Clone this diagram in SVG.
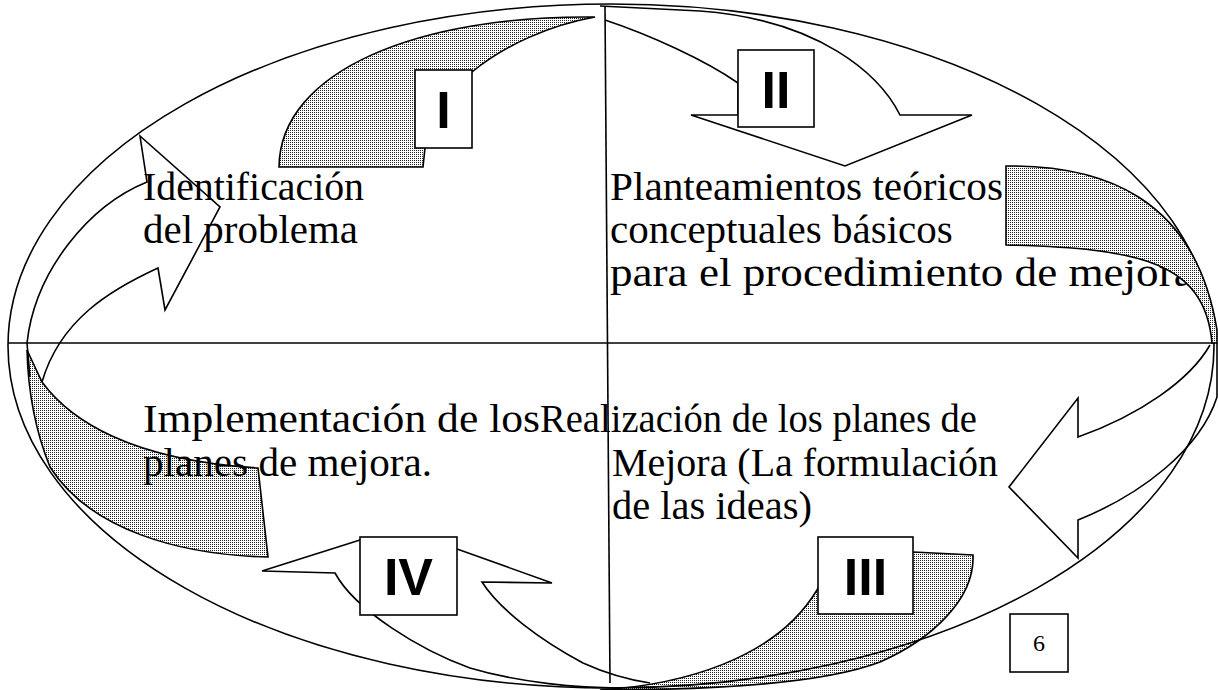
<svg xmlns="http://www.w3.org/2000/svg" width="1218" height="690" viewBox="0 0 1218 690">
<defs>
<pattern id="dots" width="2" height="2" patternUnits="userSpaceOnUse"><rect width="2" height="2" fill="#fff"/><rect width="1" height="1" fill="#222"/></pattern>
<style>
.ln{fill:none;stroke:#000;stroke-width:1.6;stroke-linejoin:miter}
.band{fill:url(#dots);stroke:#000;stroke-width:1.6}
.box{fill:#fff;stroke:#000;stroke-width:1.6}
.t{font-family:"Liberation Serif","Times New Roman",serif;font-size:41px;fill:#000}
.num{font-family:"Liberation Sans",Arial,sans-serif;font-weight:bold;font-size:52px;fill:#000;text-anchor:middle}
.pg{font-family:"Liberation Serif","Times New Roman",serif;font-size:24px;fill:#000;text-anchor:middle}
</style>
</defs>
<rect width="1218" height="690" fill="#fff"/>

<g id="connectors">
  <path class="band" d="M279,167 C280,70 420,15 595,17 C550,25 505,45 472,72 L440,110 L425,148 L423,167 Z"/>
  <path class="band" d="M973,555 C975,600 930,640 880,662 C820,685 700,690 600,690 C680,685 775,660 817,590 L840,550 L913,552 Z"/>
  <path class="band" d="M42,382 C70,420 130,460 258,468 L268,557 C180,555 90,530 50,467 C35,430 28,390 27,350 Z"/>
  <path class="ln" d="M605,20 C650,35 705,60 738,83 L738,115 L691,115 L845,166 L972,115 L900,115 C880,75 820,20 700,11 L600,6"/>
  <path class="ln" d="M1210,345 C1190,380 1140,415 1078,437 L1078,398 L1009,487 L1078,558 L1078,520 C1140,495 1200,450 1217,397 L1217,343"/>
  <path class="ln" d="M620,688 C580,688 520,683 470,668 C420,650 355,610 335,573 L262,571 L360,540"/>
  <path class="ln" d="M457,549 L552,583 L482,582 C500,610 540,640 583,663 C605,673 630,680 650,683"/>
  <path class="ln" d="M30,377 L27,343 C35,270 90,205 147,182 L140,136 L220,207 L165,310 L158,268 C110,290 60,320 42,382"/>
</g>

<g id="frame">
  <ellipse class="ln" cx="611" cy="346" rx="603" ry="342"/>
  <path class="ln" d="M8,343 L1215,343"/>
  <path class="ln" d="M605,7 L610,683"/>
</g>

<g id="q1-text">
  <text class="t" x="143" y="200" textLength="221" lengthAdjust="spacingAndGlyphs">Identificación</text>
  <text class="t" x="143" y="243" textLength="215" lengthAdjust="spacingAndGlyphs">del problema</text>
</g>
<g id="q2-text">
  <text class="t" x="610" y="200" textLength="393" lengthAdjust="spacingAndGlyphs">Planteamientos teóricos</text>
  <text class="t" x="610" y="243">conceptuales básicos</text>
  <text class="t" x="610" y="286" textLength="595" lengthAdjust="spacingAndGlyphs">para el procedimiento de mejora.</text>
</g>
<g id="q4-text">
  <text class="t" x="143" y="432" textLength="397" lengthAdjust="spacingAndGlyphs">Implementación de los</text>
  <text class="t" x="143" y="476" textLength="289" lengthAdjust="spacingAndGlyphs">planes de mejora.</text>
</g>
<g id="q3-text">
  <text class="t" x="540" y="432" textLength="437" lengthAdjust="spacingAndGlyphs">Realización de los planes de</text>
  <text class="t" x="612" y="476" textLength="386" lengthAdjust="spacingAndGlyphs">Mejora (La formulación</text>
  <text class="t" x="612" y="519" textLength="200" lengthAdjust="spacingAndGlyphs">de las ideas)</text>
</g>

<g id="band-right">
  <path class="band" d="M1006,166 L1006,245 C1140,248 1205,262 1212,343 L1217,343 L1217,330 C1195,195 1100,165 1006,166 Z"/>
</g>

<g id="box-I"><rect class="box" x="415" y="70" width="57" height="78"/><text class="num" x="443.5" y="128">I</text></g>
<g id="box-II"><rect class="box" x="738" y="50" width="76" height="77"/><text class="num" x="776" y="108">II</text></g>
<g id="box-III"><rect class="box" x="818" y="537" width="95" height="77"/><text class="num" x="865.5" y="595">III</text></g>
<g id="box-IV"><rect class="box" x="360" y="537" width="97" height="78"/><text class="num" x="408.5" y="595">IV</text></g>
<g id="page-num"><rect class="box" x="1010" y="614" width="58" height="58"/><text class="pg" x="1039" y="651">6</text></g>
</svg>
